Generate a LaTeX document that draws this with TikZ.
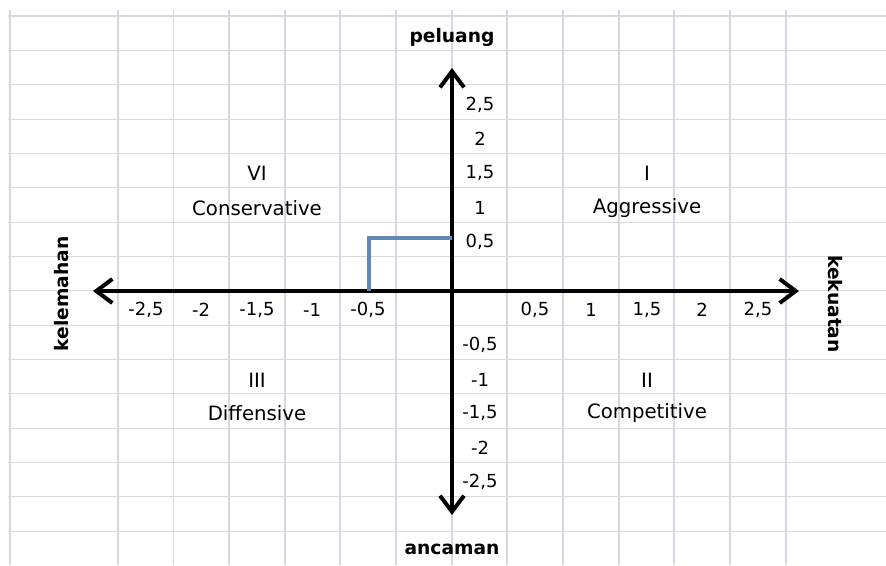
\documentclass[tikz,border=0pt]{standalone}
\usepackage{fontspec}
\setmainfont{DejaVu Sans}
\usetikzlibrary{arrows.meta}

\definecolor{gridgray}{RGB}{212,216,228}
\definecolor{pathblue}{RGB}{98,136,184}

\begin{document}
\begin{tikzpicture}[x=0.75pt,y=-0.75pt,
  gridline/.style={draw=gridgray,line width=0.8pt},
  axisline/.style={line width=3pt,
    {Straight Barb[length=12pt,width=18pt]}-{Straight Barb[length=12pt,width=18pt]}},
  ticklabel/.style={font=\fontsize{13.5}{15}\selectfont,inner sep=0pt},
  zonelabel/.style={font=\fontsize{14.8}{17}\selectfont,inner sep=0pt},
  axislabel/.style={font=\fontsize{14}{17}\selectfont\bfseries,inner sep=0pt}]

\useasboundingbox (0,0) rectangle (886,565);

% spreadsheet grid
\foreach \gx in {10,118,173.5,229,285,340,396,452,507,563,619,674,730,786}
  \draw[gridline] (\gx,10) -- (\gx,565);
\foreach \r in {0,...,15}
  \draw[gridline] (8,16+34.35*\r) -- (886,16+34.35*\r);

% axis ends
\coordinate (west) at (93,291);
\coordinate (east) at (799,291);
\coordinate (north) at (452,68);
\coordinate (south) at (452,515);

\draw[axisline] (west) -- (east);   % x
\draw[axisline] (south) -- (north); % y

% position
\coordinate (pos0) at (369,291);
\coordinate (pos1) at (369,238);
\coordinate (pos2) at (452,238);
\draw[pathblue,line width=3pt] (pos0) -- (pos1) -- (pos2);

% tick labels
\foreach \tx/\tl [count=\k] in {146/{-2,5},201/{-2},257/{-1,5},312/{-1},368/{-0,5},
    535/{0,5},591/{1},647/{1,5},702/{2},758/{2,5}}
  \node[ticklabel] (tickx\k) at (\tx,310) {\tl};
\foreach \ty/\tl [count=\k] in {105/{2,5},139/{2},173/{1,5},208/{1},242/{0,5},
    345/{-0,5},380/{-1},413/{-1,5},448/{-2},482/{-2,5}}
  \node[ticklabel] (ticky\k) at (480,\ty) {\tl};

% quadrants
\node[zonelabel] (q1) at (647,173) {I};
\node[zonelabel] (q1name) at (647,208) {Aggressive};
\node[zonelabel] (q2) at (647,380) {II};
\node[zonelabel] (q2name) at (647,413) {Competitive};
\node[zonelabel] (q3) at (257,380) {III};
\node[zonelabel] (q3name) at (257,413) {Diffensive};
\node[zonelabel] (q4) at (257,173) {VI};
\node[zonelabel] (q4name) at (257,208) {Conservative};

% axis names
\node[axislabel] (peluang) at (452,37) {peluang};
\node[axislabel] (ancaman) at (452,549) {ancaman};
\node[axislabel,rotate=90] (kelemahan) at (62,294) {kelemahan};
\node[axislabel,rotate=-90] (kekuatan) at (835,304) {kekuatan};

\end{tikzpicture}
\end{document}
